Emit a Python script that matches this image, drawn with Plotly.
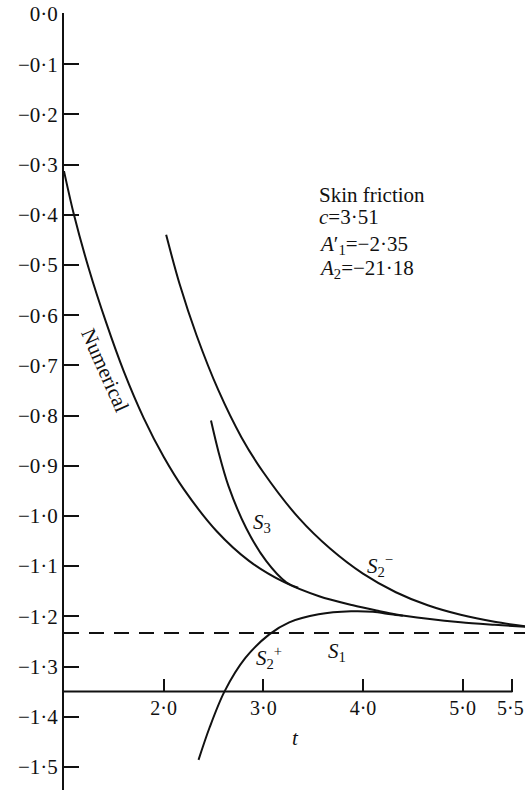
import plotly.graph_objects as go

# ---- data ----
NUM_T = [1.00, 1.10, 1.25, 1.42, 1.60, 1.80, 2.00, 2.20, 2.53, 2.86, 3.21, 3.56, 3.90, 4.15, 4.32, 4.65, 4.98, 5.32, 5.63]
NUM_V = [-0.313, -0.400, -0.508, -0.613, -0.712, -0.805, -0.882, -0.946, -1.030, -1.090, -1.132, -1.160, -1.178, -1.189, -1.196, -1.205, -1.212, -1.217, -1.221]

S2M_T = [2.025, 2.16, 2.33, 2.55, 2.78, 3.00, 3.36, 3.67, 4.00, 4.33, 4.65, 4.98, 5.32, 5.63]
S2M_V = [-0.440, -0.538, -0.640, -0.750, -0.843, -0.913, -1.005, -1.065, -1.115, -1.152, -1.178, -1.197, -1.211, -1.220]

S3_T = [2.475, 2.55, 2.65, 2.83, 3.03, 3.23, 3.35]
S3_V = [-0.810, -0.872, -0.940, -1.025, -1.090, -1.132, -1.143]

S2P_T = [2.35, 2.46, 2.61, 2.82, 3.06, 3.26, 3.555, 3.88, 4.10, 4.28, 4.40]
S2P_V = [-1.486, -1.422, -1.350, -1.283, -1.236, -1.212, -1.196, -1.190, -1.191, -1.196, -1.199]

S1_LEVEL = -1.233
X_AXIS_LEVEL = -1.35
X_AXIS_END = 5.5

X_TICKS = [2.0, 3.0, 4.0, 5.0, 5.5]
X_TICK_TEXT = ["2·0", "3·0", "4·0", "5·0", "5·5\u2009"]
Y_TICKS = [0.0, -0.1, -0.2, -0.3, -0.4, -0.5, -0.6, -0.7, -0.8, -0.9, -1.0, -1.1, -1.2, -1.3, -1.4, -1.5]
Y_TICK_TEXT = ["0·0", "−0·1", "−0·2", "−0·3", "−0·4", "−0·5", "−0·6", "−0·7", "−0·8",
               "−0·9", "−1·0", "−1·1", "−1·2", "−1·3", "−1·4", "−1·5"]

X_TITLE = "<i>t</i>"
X_TITLE_POS = (3.326, -1.442)

INFO_LINES = ["Skin friction", "<i>c</i>=3·51", "<i>A</i>′<sub>1</sub>=−2·35", "<i>A</i><sub>2</sub>=−21·18"]
INFO_T = 3.535
INFO_V = [-0.361, -0.404, -0.460, -0.508]

X_RANGE = [1.0, 5.626]
Y_RANGE = [-1.546, 0.002]

FONT = "Liberation Serif, Times New Roman, serif"
INK = "#111111"

fig = go.Figure()

for tx, vy in [(NUM_T, NUM_V), (S2M_T, S2M_V), (S3_T, S3_V), (S2P_T, S2P_V)]:
    fig.add_trace(go.Scatter(x=tx, y=vy, mode="lines",
                             line=dict(color=INK, width=2, shape="spline", smoothing=0.9),
                             hoverinfo="skip", showlegend=False))

fig.add_trace(go.Scatter(x=X_RANGE, y=[S1_LEVEL, S1_LEVEL], mode="lines",
                         line=dict(color=INK, width=2, dash="15px,10px"), showlegend=False, hoverinfo="skip"))

# x-axis line (ends at the last tick)
fig.add_shape(type="line", xref="x", yref="y", x0=X_RANGE[0], x1=X_AXIS_END,
              y0=X_AXIS_LEVEL, y1=X_AXIS_LEVEL, line=dict(color=INK, width=2))

ann_font = dict(family=FONT, size=21, color=INK)
for txt, v in zip(INFO_LINES, INFO_V):
    fig.add_annotation(x=INFO_T, y=v, text=txt, showarrow=False, xanchor="left", yanchor="middle", font=ann_font)

labels = [
    ("Numerical", 1.412, -0.709, 66),
    ("<i>S</i><sub>3</sub>", 2.987, -1.014, 0),
    ("<i>S</i><sub>2</sub><sup>−</sup>", 4.173, -1.098, 0),
    ("<i>S</i><sub>2</sub><sup>+</sup>", 3.057, -1.283, 0),
    ("<i>S</i><sub>1</sub>", 3.735, -1.271, 0),
    (X_TITLE, X_TITLE_POS[0], X_TITLE_POS[1], 0),
]
for txt, x, y, ang in labels:
    fig.add_annotation(x=x, y=y, text=txt, showarrow=False, textangle=ang, font=ann_font,
                       xanchor="center", yanchor="middle")

fig.update_layout(
    width=528, height=790,
    margin=dict(l=64, r=0, t=13, b=0),
    paper_bgcolor="white", plot_bgcolor="white",
    font=dict(family=FONT, size=21, color=INK),
    showlegend=False,
    xaxis=dict(range=X_RANGE, anchor="free",
               position=(X_AXIS_LEVEL - Y_RANGE[0]) / (Y_RANGE[1] - Y_RANGE[0]),
               tickmode="array", tickvals=X_TICKS, ticktext=X_TICK_TEXT,
               ticks="inside", ticklen=13, tickwidth=2, tickcolor=INK,
               ticklabelstandoff=2, ticklabeloverflow="allow",
               showline=False, showgrid=False, zeroline=False,
               tickfont=dict(family=FONT, size=20, color=INK)),
    yaxis=dict(range=Y_RANGE, tickmode="array", tickvals=Y_TICKS, ticktext=Y_TICK_TEXT,
               ticks="inside", ticklen=15, tickwidth=2, tickcolor=INK,
               showline=True, linecolor=INK, linewidth=2,
               showgrid=False, zeroline=False,
               tickfont=dict(family=FONT, size=21, color=INK)),
)

fig.write_html("out.html", config={"displayModeBar": False},
               post_script="document.body.style.margin='0';document.body.style.padding='0';"
                           "document.body.style.overflow='hidden';")
